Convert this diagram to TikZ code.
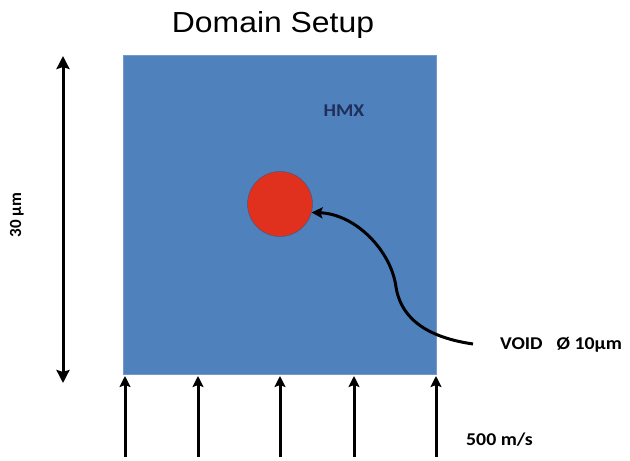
\documentclass[tikz,border=0pt]{standalone}
\usepackage{fontspec}
\usetikzlibrary{arrows.meta}
\setmainfont[FakeStretch=1.1]{Liberation Sans}
\newfontfamily\calfont[FakeStretch=1.1]{Carlito}
\newfontfamily\calplain{Carlito}
\definecolor{hmxblue}{HTML}{4F81BD}
\definecolor{voidred}{HTML}{E0301E}
\definecolor{navy}{HTML}{1F2F5A}
\begin{document}
\begin{tikzpicture}[x=1pt,y=-1pt,
  arr/.style={line width=3pt,-{Stealth[length=11pt,width=11pt,inset=2pt]}},
  lbl/.style={font=\calfont\bfseries\fontsize{18}{21}\selectfont,inner sep=0pt}]
\useasboundingbox (0,0) rectangle (630,461);
\node[font=\fontsize{29}{33}\selectfont,inner sep=0pt,anchor=base] (title) at (273,32) {Domain Setup};
\node[fill=hmxblue,draw=hmxblue!80!white,minimum width=313pt,minimum height=319pt,anchor=north west,inner sep=0pt] (dom) at (123,55) {};
\node[circle,fill=voidred,draw=hmxblue!70!black,line width=0.4pt,minimum size=65pt,inner sep=0pt] (void) at (280,204) {};
\node[lbl,text=navy] (hmx) at (344,111) {HMX};
\coordinate (dt) at (63,56);
\coordinate (db) at (63,383);
\draw[line width=3pt,{Stealth[length=13pt,width=13pt,inset=2pt]}-{Stealth[length=13pt,width=13pt,inset=2pt]}] (dt) -- (db);
\node[font=\calplain\bfseries\fontsize{17}{20}\selectfont,inner sep=0pt,rotate=90] (len) at (17,215) {30 µm};
\coordinate (ve) at (473,344);
\draw[arr] (ve) .. controls (418,336) and (400,312) .. (396,287) .. controls (391,250) and (355,214) .. (void.-15);
\node[lbl,anchor=west] (vlab) at (500,345) {VOID\hspace{14pt}Ø 10µm};
\foreach \i/\x in {1/125,2/198,3/280,4/354,5/436}{
  \coordinate (b\i) at (\x,457);
  \coordinate (t\i) at (\x,376);
  \draw[arr] (b\i) -- (t\i);
}
\node[lbl,anchor=west] (vel) at (466,440) {500 m/s};
\end{tikzpicture}
\end{document}
